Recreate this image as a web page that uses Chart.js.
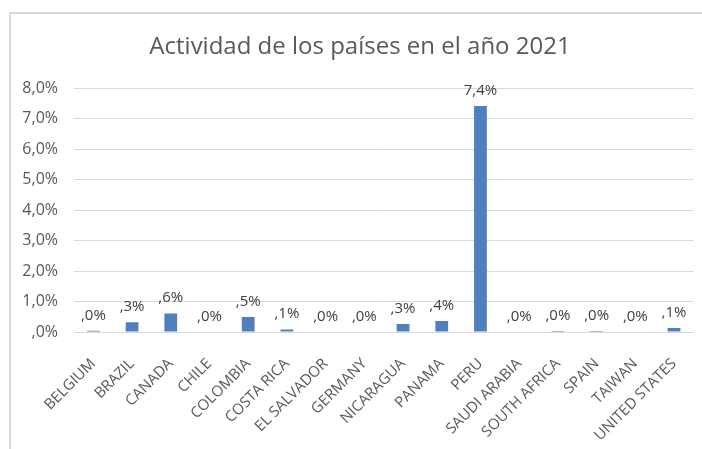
<!DOCTYPE html>
<html>
<head>
<meta charset="utf-8">
<script src="https://cdn.jsdelivr.net/npm/chart.js@4/dist/chart.umd.min.js"></script>
<style>
  body { margin: 0; background: #fff; }
  .frame { position: absolute; left: 9px; top: 12px; width: 720px; height: 460px;
           border-left: 2px solid #d9d9d9; border-top: 2px solid #d9d9d9; }
  canvas { position: absolute; left: 0; top: 0; }
</style>
</head>
<body>
<div class="frame"></div>
<canvas id="chart" width="702" height="449"></canvas>
<script>
const chartTitle = 'Actividad de los países en el año 2021';
const countries = ['BELGIUM', 'BRAZIL', 'CANADA', 'CHILE', 'COLOMBIA', 'COSTA RICA',
  'EL SALVADOR', 'GERMANY', 'NICARAGUA', 'PANAMA', 'PERU', 'SAUDI ARABIA',
  'SOUTH AFRICA', 'SPAIN', 'TAIWAN', 'UNITED STATES'];
const activity = [0.0004, 0.0032, 0.0061, 0, 0.0049, 0.0008,
  0, 0, 0.0026, 0.0036, 0.0741, 0,
  0.0003, 0.0003, 0, 0.0013];
const yTicks = [0, 0.01, 0.02, 0.03, 0.04, 0.05, 0.06, 0.07, 0.08];

// excel style ",0%" / "7,4%"
function pct(v) {
  const s = (Math.round(v * 1000) / 10).toFixed(1).replace('.', ',');
  return (s.startsWith('0,') ? s.slice(1) : s) + '%';
}

// title centred on the frame, not the canvas
const frameTitle = {
  id: 'frameTitle',
  afterDraw(chart) {
    const ctx = chart.ctx;
    ctx.save();
    ctx.font = '24px "Open Sans"';
    ctx.fillStyle = '#595959';
    ctx.textAlign = 'center';
    ctx.textBaseline = 'middle';
    ctx.fillText(chartTitle, 360, 47);
    ctx.restore();
  }
};

const barLabels = {
  id: 'barLabels',
  afterDatasetsDraw(chart) {
    const ctx = chart.ctx;
    const meta = chart.getDatasetMeta(0);
    ctx.save();
    ctx.font = '15px "Open Sans"';
    ctx.fillStyle = '#404040';
    ctx.textAlign = 'center';
    ctx.textBaseline = 'bottom';
    meta.data.forEach((bar, i) => {
      ctx.fillText(pct(activity[i]), bar.x, bar.y - 8);
    });
    ctx.restore();
  }
};

new Chart(document.getElementById('chart'), {
  type: 'bar',
  data: {
    labels: countries,
    datasets: [{
      data: activity,
      backgroundColor: '#4f7fbf',
      barPercentage: 0.33,
      categoryPercentage: 1
    }]
  },
  options: {
    responsive: false,
    animation: false,
    layout: { padding: { left: 0, right: 8, top: 88, bottom: 0 } },
    plugins: {
      legend: { display: false },
      tooltip: { enabled: false },
      title: { display: false }
    },
    scales: {
      x: {
        grid: { display: false },
        border: { color: '#d9d9d9', width: 1 },
        ticks: {
          autoSkip: false,
          minRotation: 45,
          maxRotation: 45,
          color: '#595959',
          font: { family: 'Open Sans', size: 15 },
          padding: 15
        },
        afterFit(scale) { scale.height = 117; }
      },
      y: {
        min: 0,
        max: 0.08,
        afterBuildTicks(scale) { scale.ticks = yTicks.map(v => ({ value: v })); },
        grid: { color: '#d9d9d9', drawTicks: false },
        border: { display: false },
        ticks: {
          color: '#595959',
          font: { family: 'Open Sans', size: 16 },
          padding: 16,
          callback: v => pct(v)
        },
        afterFit(scale) { scale.width = 74; }
      }
    }
  },
  plugins: [barLabels, frameTitle]
});
</script>
</body>
</html>
